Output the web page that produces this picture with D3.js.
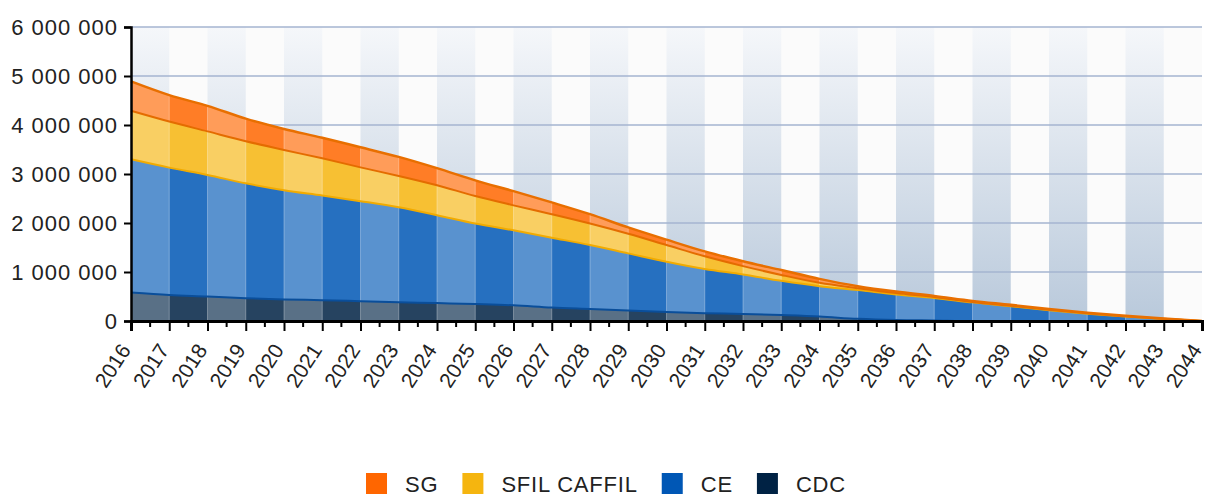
<!DOCTYPE html>
<html>
<head>
<meta charset="utf-8">
<script src="https://cdn.jsdelivr.net/npm/d3@7"></script>
<style>
  html, body { margin: 0; padding: 0; background: #ffffff; }
  svg { display: block; }
  text { font-family: "Liberation Sans", Arial, sans-serif; fill: #222; }
</style>
</head>
<body>
<svg id="chart" width="1207" height="498"></svg>
<script>
// ---- data (euros) ----
const years = [2016,2017,2018,2019,2020,2021,2022,2023,2024,2025,2026,2027,2028,2029,2030,
               2031,2032,2033,2034,2035,2036,2037,2038,2039,2040,2041,2042,2043,2044];
const seriesNames = ["SG", "SFIL CAFFIL", "CE", "CDC"];
const sgValues   = [600,540,520,460,430,420,410,390,350,320,290,240,190,130,110,100,100,100,80,40,30,20,20,20,15,10,10,8,0].map(v => v * 1000);
const sfilValues = [990,940,890,860,820,760,690,640,610,560,510,480,440,400,340,260,170,120,70,40,30,20,10,10,10,10,5,5,0].map(v => v * 1000);
const ceValues   = [2720,2600,2480,2345,2230,2135,2040,1935,1795,1645,1530,1425,1305,1165,1025,900,805,700,620,585,520,460,380,300,220,150,90,40,0].map(v => v * 1000);
const cdcValues  = [580,530,500,465,440,425,405,385,365,345,320,275,245,215,185,160,145,120,90,45,20,10,0,0,0,0,0,0,0].map(v => v * 1000);
const yTicks = [0, 1000000, 2000000, 3000000, 4000000, 5000000, 6000000];

// ---- styling ----
const baseColors = { "SG": "#ff6600", "SFIL CAFFIL": "#f5b50f", "CE": "#0057b5", "CDC": "#002244" };
const edgeColors = { "SG": "#e86f00", "SFIL CAFFIL": "#e46c00", "CE": "#f2ab00", "CDC": "#0a4e9a" };

const svg = d3.select("#chart");
const margin = { left: 131, right: 5, top: 27, bottom: 177 };
const W = 1207, H = 498;
const x = d3.scaleLinear().domain([years[0], years[years.length - 1]]).range([margin.left, W - margin.right]);
const y = d3.scaleLinear().domain([0, 6000000]).range([H - margin.bottom, margin.top]);

const table = years.map((yr, i) => ({
  year: yr, "SG": sgValues[i], "SFIL CAFFIL": sfilValues[i], "CE": ceValues[i], "CDC": cdcValues[i]
}));
// stack order bottom -> top: CDC, CE, SFIL CAFFIL, SG
const stackKeys = ["CDC", "CE", "SFIL CAFFIL", "SG"];
const stacked = d3.stack().keys(stackKeys)(table);

const defs = svg.append("defs");
const grad = defs.append("linearGradient").attr("id", "bandGrad")
  .attr("x1", 0).attr("y1", 0).attr("x2", 0).attr("y2", 1);
grad.append("stop").attr("offset", "0%").attr("stop-color", "#f5f7fa");
grad.append("stop").attr("offset", "100%").attr("stop-color", "#b9c9db");

// plot background
svg.append("rect").attr("x", x(years[0])).attr("y", y(6000000))
  .attr("width", x(years[years.length - 1]) - x(years[0]))
  .attr("height", y(0) - y(6000000)).attr("fill", "#fbfbfb");

// alternating bands
const bandStarts = years.filter((yr, i) => i % 2 === 0 && i < years.length - 1);
svg.append("g").selectAll("rect").data(bandStarts).join("rect")
  .attr("x", d => x(d)).attr("y", y(6000000))
  .attr("width", d => x(d + 1) - x(d)).attr("height", y(0) - y(6000000))
  .attr("fill", "url(#bandGrad)");

// horizontal grid
svg.append("g").selectAll("line").data(yTicks.filter(d => d > 0)).join("line")
  .attr("x1", x(years[0])).attr("x2", x(years[years.length - 1]))
  .attr("y1", d => y(d)).attr("y2", d => y(d))
  .attr("stroke", "#a4b4d0").attr("stroke-width", 1.5);

const curve = d3.curveMonotoneX;
const area = d3.area().x(d => x(d.data.year)).y0(d => y(d[0])).y1(d => y(d[1])).curve(curve);
const topLine = d3.line().x(d => x(d.data.year)).y(d => y(d[1])).curve(curve);

// clip for the whole stacked area
const totalArea = d3.area().x(d => x(d.data.year)).y0(y(0)).y1(d => y(d[1])).curve(curve);
defs.append("clipPath").attr("id", "stackClip").append("path")
  .attr("d", totalArea(stacked[stacked.length - 1]));

svg.append("g").selectAll("path").data(stacked).join("path")
  .attr("d", area)
  .attr("fill", d => d3.interpolateRgb(baseColors[d.key], "#ffffff")(0.15));

// light overlay on alternate columns inside the areas
const hl = svg.append("g").attr("clip-path", "url(#stackClip)");
hl.selectAll("rect").data(bandStarts).join("rect")
  .attr("x", d => x(d)).attr("y", y(6000000))
  .attr("width", d => x(d + 1) - x(d)).attr("height", y(0) - y(6000000))
  .attr("fill", "#ffffff").attr("fill-opacity", 0.24);
hl.selectAll("line").data(years.slice(1, -1)).join("line")
  .attr("x1", d => x(d)).attr("x2", d => x(d))
  .attr("y1", y(6000000)).attr("y2", y(0))
  .attr("stroke", "#ffffff").attr("stroke-opacity", 0.3).attr("stroke-width", 1);

// boundary lines (top edge of each stacked layer)
svg.append("g").selectAll("path").data(stacked).join("path")
  .attr("d", topLine)
  .attr("fill", "none")
  .attr("stroke", d => edgeColors[d.key])
  .attr("stroke-width", d => d.key === "SG" ? 2.5 : 2)
  .attr("stroke-linejoin", "round");

// y axis
const yAxis = svg.append("g").attr("transform", `translate(${x(years[0])},0)`)
  .call(d3.axisLeft(y).tickValues(yTicks).tickSize(7).tickPadding(6)
    .tickFormat(d => d3.format(",")(d).replace(/,/g, " ")));
yAxis.select(".domain").attr("stroke", "#000").attr("stroke-width", 2.5);
yAxis.selectAll(".tick line").attr("stroke", "#000").attr("stroke-width", 2);
yAxis.selectAll(".tick text").attr("font-size", 22).attr("letter-spacing", 1)
  .attr("fill", "#222").attr("font-family", "Liberation Sans, Arial, sans-serif");

// x axis: minor ticks at half years
const halfTicks = years.slice(0, -1).map(d => d + 0.5);
svg.append("g").selectAll("line").data(halfTicks).join("line")
  .attr("x1", d => x(d)).attr("x2", d => x(d))
  .attr("y1", y(0)).attr("y2", y(0) + 6)
  .attr("stroke", "#000").attr("stroke-width", 2);
const xAxis = svg.append("g").attr("transform", `translate(0,${y(0)})`)
  .call(d3.axisBottom(x).tickValues(years).tickSize(10).tickPadding(4).tickFormat(d3.format("d")));
xAxis.select(".domain").attr("stroke", "#000").attr("stroke-width", 3);
xAxis.selectAll(".tick line").attr("stroke", "#000").attr("stroke-width", 2);
xAxis.selectAll(".tick text")
  .attr("font-size", 21).attr("fill", "#222")
  .attr("font-family", "Liberation Sans, Arial, sans-serif")
  .attr("text-anchor", "end")
  .attr("dy", "0")
  .attr("transform", "translate(0,29) rotate(-57)")
  .attr("y", 0).attr("x", 0);

// legend
const legendOrder = seriesNames;
const legend = svg.append("g");
const items = legend.selectAll("g").data(legendOrder).join("g");
items.append("rect").attr("width", 21).attr("height", 21).attr("y", 473)
  .attr("fill", d => baseColors[d]);
items.append("text").attr("x", 39).attr("y", 492).attr("font-size", 22)
  .attr("letter-spacing", 0.8).text(d => d);
let cx = 0;
const offs = [];
items.each(function (d) {
  const w = d3.select(this).select("text").node().getComputedTextLength();
  offs.push(cx);
  cx += 39 + w + 24;
});
const totalW = cx - 24;
const startX = 606 - totalW / 2;
items.attr("transform", (d, i) => `translate(${startX + offs[i]},0)`);
</script>
</body>
</html>
